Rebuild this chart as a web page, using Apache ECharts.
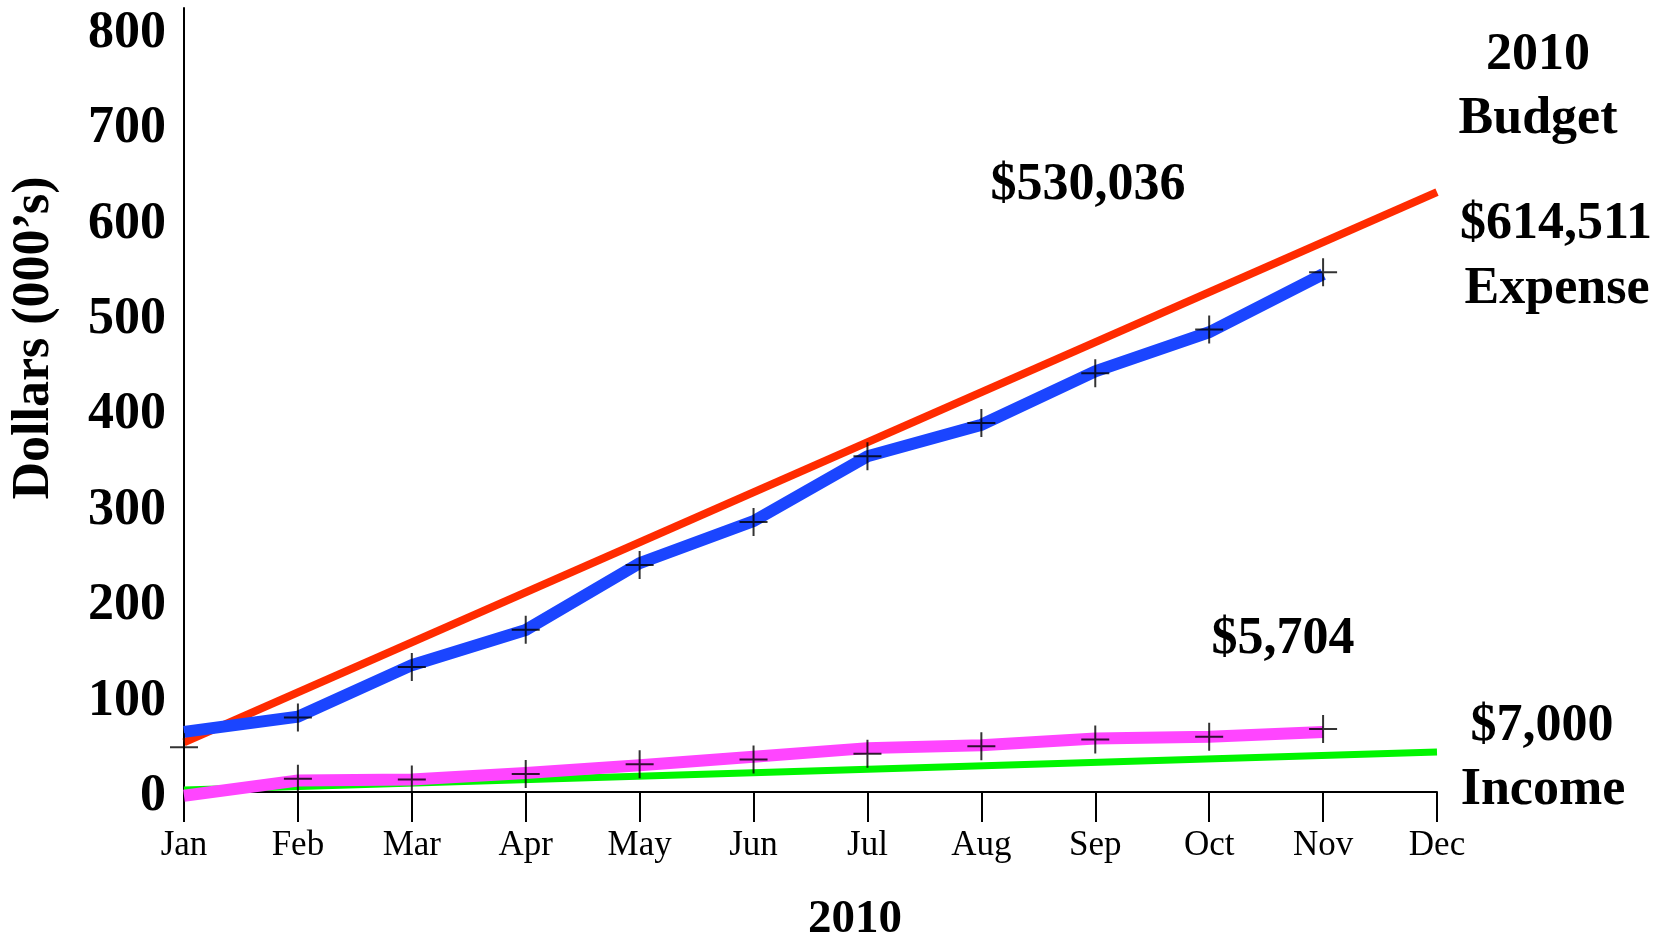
<!DOCTYPE html>
<html>
<head>
<meta charset="utf-8">
<script src="https://cdn.jsdelivr.net/npm/echarts@6/dist/echarts.min.js"></script>
<style>
html,body{margin:0;padding:0;background:#fff;}
#chart{width:1667px;height:939px;}
</style>
</head>
<body>
<div id="chart"></div>
<script>
const months = ['Jan','Feb','Mar','Apr','May','Jun','Jul','Aug','Sep','Oct','Nov','Dec'];
const yTicks = [0,100,200,300,400,500,600,700,800];
// Budget lines (straight, drawn from first to last value)
const expenseBudget = [52, null, null, null, null, null, null, null, null, null, null, 629];
const incomeBudget  = [2,  null, null, null, null, null, null, null, null, null, null, 42];
// Actual cumulative lines (thousands of dollars)
const expenseActual = [63, 79, 133, 170, 240, 284, 352, 385, 441, 482, 543, null];
const incomeActual  = [-4, 12, 13, 20, 28, 37, 46, 49, 56, 58, 63, null];
// Cross markers
const expenseMarks  = [47, 78, 131, 170, 238, 283, 352, 387, 439, 485, 545, null];
const incomeMarks   = [null, 14, 13, 19, 29, 34, 40, 48, 55, 58, 66, null];

const SERIF = '"Liberation Serif", "Times New Roman", serif';
const chart = echarts.init(document.getElementById('chart'), null, {renderer:'canvas'});
const crossPath = 'path://M14,0L14,28M0,14L28,14';

function txt(text, x, y, size, rot){
  const e = {type:'text', x:x, y:y, z:100,
    style:{text:text, fill:'#000', font:'bold '+size+'px '+SERIF, align:'center', verticalAlign:'middle'}};
  if (rot) e.rotation = rot;
  return e;
}

chart.setOption({
  animation:false,
  backgroundColor:'#fff',
  grid:{left:184, right:230, top:8, bottom:147, containLabel:false},
  xAxis:{
    type:'category', data:months, boundaryGap:false,
    axisLine:{lineStyle:{color:'#000', width:2}},
    axisTick:{show:true, length:30, lineStyle:{color:'#000', width:2}},
    axisLabel:{color:'#000', fontFamily:SERIF, fontSize:35, margin:36},
    splitLine:{show:false}
  },
  yAxis:{
    type:'value', min:0, max:822, interval:100,
    axisLine:{show:true, lineStyle:{color:'#000', width:2}},
    axisTick:{show:false},
    splitLine:{show:false},
    axisLabel:{color:'#000', fontFamily:SERIF, fontSize:52, fontWeight:'bold', margin:18, showMaxLabel:false,
      formatter:function(v){ return yTicks.indexOf(v) >= 0 ? '{a|' + v + '}' : ''; },
      rich:{a:{color:'#000', fontFamily:SERIF, fontSize:52, fontWeight:'bold', padding:[9,0,0,0]}}}
  },
  series:[
    {type:'line', name:'Budget Expense', data:expenseBudget, connectNulls:true, symbol:'none', z:2,
      lineStyle:{color:'#FF2B00', width:8}},
    {type:'line', name:'Budget Income', data:incomeBudget, connectNulls:true, symbol:'none', z:2,
      lineStyle:{color:'#00F500', width:7}},
    {type:'line', name:'Actual Expense', data:expenseActual, symbol:'none', z:3,
      lineStyle:{color:'#1B45FF', width:12, join:'miter'}},
    {type:'line', name:'Actual Income', data:incomeActual, symbol:'none', z:3, clip:false,
      lineStyle:{color:'#FF45FF', width:12, join:'miter'}},
    {type:'scatter', data:expenseMarks, symbol:crossPath, symbolSize:28, z:5, clip:false,
      itemStyle:{color:'rgba(0,0,0,0)', borderColor:'#000', borderWidth:2}},
    {type:'scatter', data:incomeMarks, symbol:crossPath, symbolSize:28, z:5, clip:false,
      itemStyle:{color:'rgba(0,0,0,0)', borderColor:'#000', borderWidth:2}}
  ],
  graphic:[
    txt('Dollars (000\u2019s)', 35, 338, 52, Math.PI/2),
    txt('2010', 855, 920, 47),
    txt('2010', 1538, 56, 52),
    txt('Budget', 1538, 120, 52),
    txt('$614,511', 1556, 225, 52),
    txt('Expense', 1557, 290, 52),
    txt('$530,036', 1088, 186, 52),
    txt('$5,704', 1283, 640, 52),
    txt('$7,000', 1542, 727, 52),
    txt('Income', 1543, 791, 52)
  ]
});
</script>
</body>
</html>
